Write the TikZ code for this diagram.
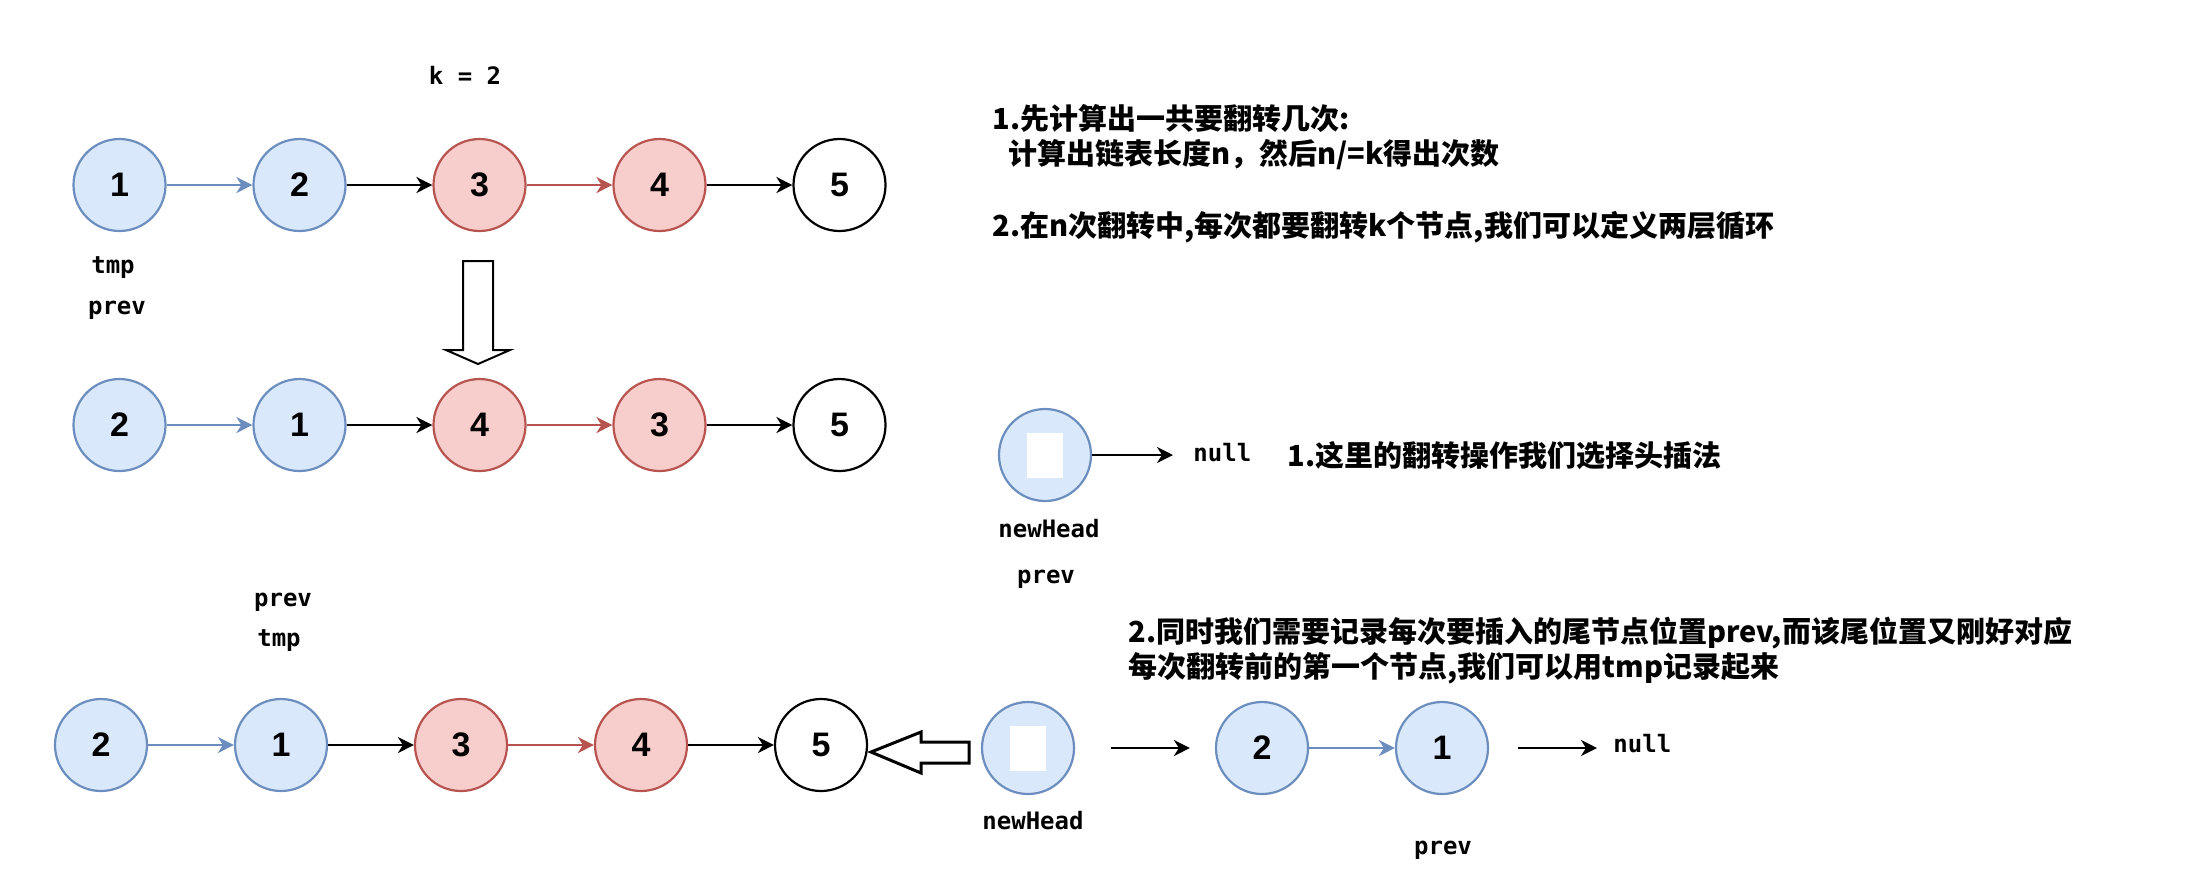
\documentclass[tikz,border=0pt]{standalone}
\usepackage{fontspec}
\setmainfont{Liberation Sans}
\setmonofont{DejaVu Sans Mono}
\newfontfamily\cjk{Noto Sans CJK SC}
\usepackage{xcolor}
\usepackage{tikz}
\usetikzlibrary{arrows.meta, positioning}
\definecolor{nodeblue}{HTML}{DAE8FC}
\definecolor{edgeblue}{HTML}{6C8EBF}
\definecolor{nodered}{HTML}{F8CECC}
\definecolor{edgered}{HTML}{B85450}
\tikzset{
  lnode/.style={circle, draw, line width=1.1pt, minimum size=46pt, inner sep=0pt, font=\bfseries\fontsize{17}{17}\selectfont},
  bluenode/.style={lnode, draw=edgeblue, fill=nodeblue},
  rednode/.style={lnode, draw=edgered, fill=nodered},
  endnode/.style={lnode, draw=black, fill=white},
  pos1/.style={bluenode}, pos2/.style={bluenode},
  pos3/.style={rednode}, pos4/.style={rednode}, pos5/.style={endnode},
  hole/.style={fill=white, minimum width=18pt, minimum height=22.5pt, inner sep=0pt},
  link/.style={line width=1.2pt, -{Stealth[length=8pt, width=8pt, inset=2.5pt]}},
  tag/.style={font=\ttfamily\bfseries\fontsize{12}{12}\selectfont},
  note/.style={anchor=west, inner sep=0pt, font=\cjk\bfseries\fontsize{14.5}{14.5}\selectfont}
}

\begin{document}
\begin{tikzpicture}[x=0.5pt, y=-0.5pt]
  \useasboundingbox (0,0) rectangle (2199,891);
  \foreach \r/\y/\xo/\vals in {a/185/119.5/{1,2,3,4,5}, b/425/119.5/{2,1,4,3,5}, c/745/101/{2,1,3,4,5}} {
    \foreach \v [count=\i] in \vals
      \node[pos\i] (\r\i) at ({\xo+180*(\i-1)}, \y) {\v};
    \foreach \j/\c [count=\i from 2] in {1/edgeblue, 2/black, 3/edgered, 4/black}
      \draw[link, \c] (\r\j) -- (\r\i);
  }
  \node[tag] (ktext) at (465,75) {k = 2};
  \node[tag] (tmpa) at (113,268) {tmp};
  \node[tag] (preva) at (117,310) {prev};
  \node[tag] (prevc) at (283,602) {prev};
  \node[tag] (tmpc) at (279,641) {tmp};
  \draw[line width=1pt, fill=white] (463,261) -- (493,261) -- (493,350) -- (510,350) -- (478,364) -- (446,350) -- (463,350) -- cycle;
  \draw[line width=1.5pt, fill=white] (969,742) -- (921,742) -- (921,732) -- (871,752) -- (921,773) -- (921,763) -- (969,763) -- cycle;
  \node[bluenode] (h1) at (1045,455) {};
  \node[hole] (h1hole) at (h1) {};
  \node[tag, anchor=west, inner sep=0pt] (null1) at (1193,453) {null};
  \draw[link, shorten >=10pt] (h1) -- (h1 -| null1.west);
  \node[tag] (headtag1) at (1049,529) {newHead};
  \node[tag] (prevd) at (1046,579) {prev};
  \node[bluenode] (h2) at (1028,748) {};
  \node[hole] (h2hole) at (h2) {};
  \node[bluenode] (d1) at (1262,748) {2};
  \node[bluenode] (d2) at (1442,748) {1};
  \node[tag, anchor=west, inner sep=0pt] (null2) at (1613,744) {null};
  \draw[link, shorten <=18pt, shorten >=12.5pt] (h2) -- (d1);
  \draw[link, edgeblue] (d1) -- (d2);
  \draw[link, shorten <=14.5pt, shorten >=8pt] (d2) -- (d2 -| null2.west);
  \node[tag] (headtag2) at (1033,821) {newHead};
  \node[tag] (preve) at (1443,850) {prev};
  \node[note] (note1) at (992,118) {1.先计算出一共要翻转几次:};
  \node[note] (note2) at (1008,155) {计算出链表长度n，然后n/=k得出次数};
  \node[note] (note3) at (992,227) {2.在n次翻转中,每次都要翻转k个节点,我们可以定义两层循环};
  \node[note] (note4) at (1287,456) {1.这里的翻转操作我们选择头插法};
  \node[note] (note5) at (1128,633) {2.同时我们需要记录每次要插入的尾节点位置prev,而该尾位置又刚好对应};
  \node[note] (note6) at (1128,668) {每次翻转前的第一个节点,我们可以用tmp记录起来};
\end{tikzpicture}
\end{document}
